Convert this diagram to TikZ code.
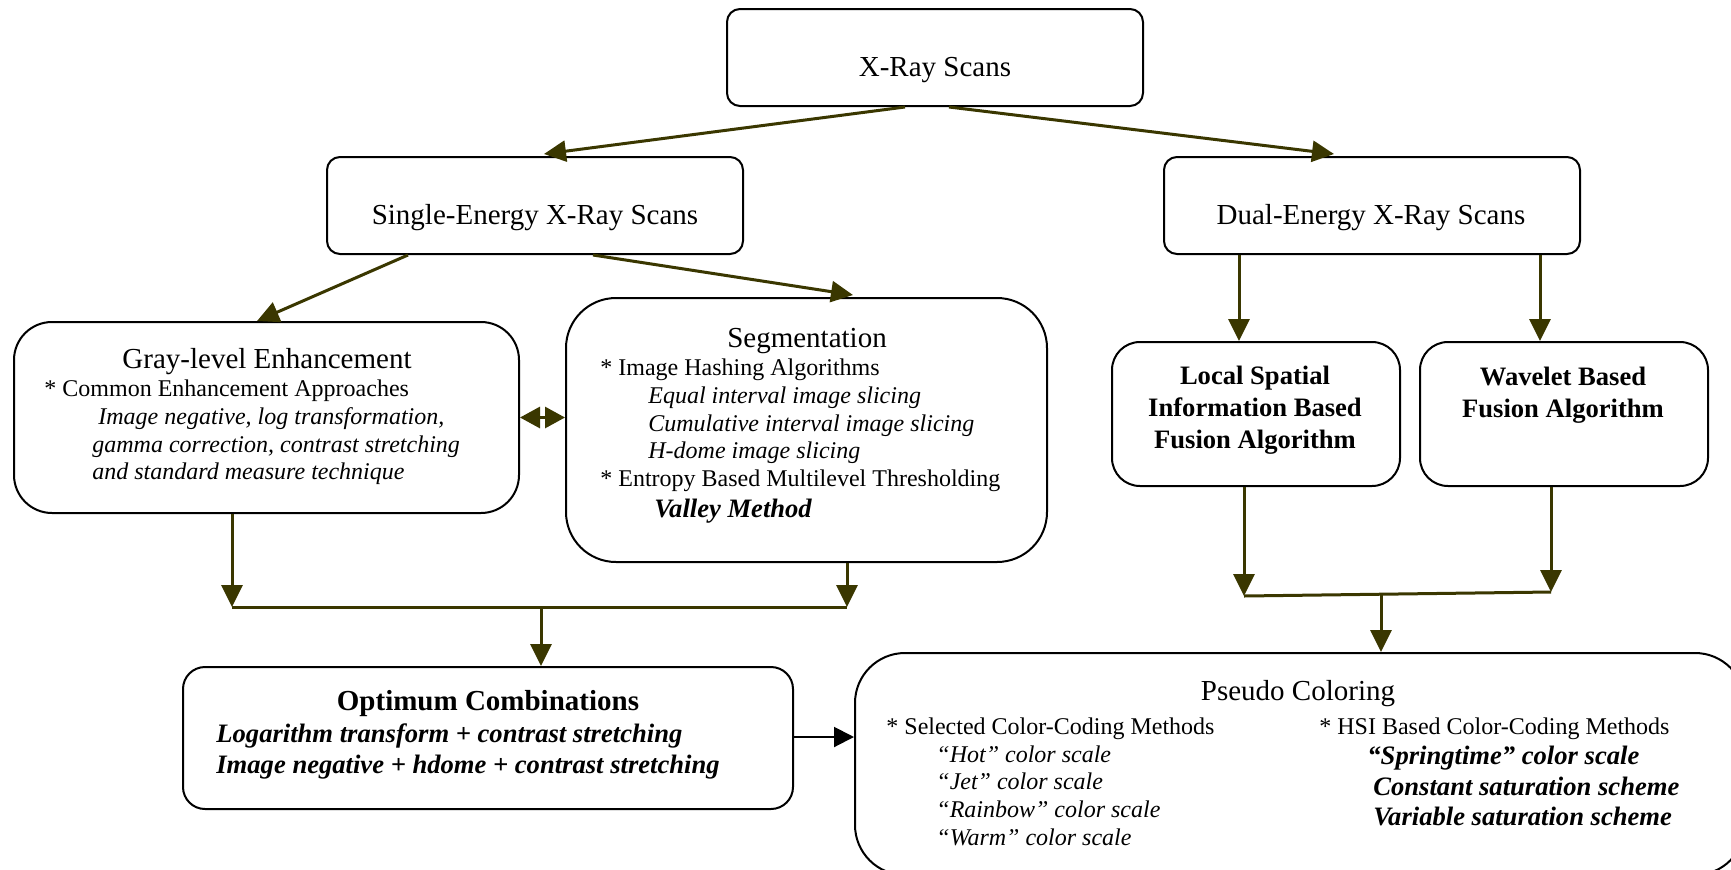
\documentclass[tikz,border=0pt]{standalone}
\usepackage{fontspec}
\setmainfont{Liberation Serif}
\usetikzlibrary{arrows.meta,calc}
\definecolor{arr}{RGB}{58,55,0}
\tikzset{
  box/.style={draw=black, line width=1pt, fill=white, inner sep=0pt},
  conn/.style={color=arr, line width=1.5pt, -{Triangle[length=11pt,width=10.5pt]}},
  plain/.style={color=arr, line width=1.5pt},
  ttl/.style={font=\fontsize{14.5}{17}\selectfont, inner sep=0pt, anchor=base},
  bd/.style={font=\fontsize{12}{14}\selectfont, inner sep=0pt, anchor=base west},
  bdi/.style={font=\fontsize{12}{14}\selectfont\itshape, inner sep=0pt, anchor=base west},
  bb/.style={font=\fontsize{13.3}{16}\selectfont\bfseries, inner sep=0pt, anchor=base},
  bbi/.style={font=\fontsize{13.3}{16}\selectfont\bfseries\itshape, inner sep=0pt, anchor=base west},
}
\begin{document}
\begin{tikzpicture}[x=0.5pt,y=-0.5pt]
\useasboundingbox (0,0) rectangle (1731,869);
\clip (0,0) rectangle (1731,869);
% boxes
\node[box, rounded corners=6.5pt, minimum width=208pt, minimum height=48.5pt] (xray) at (935,57.5) {};
\node[box, rounded corners=6.5pt, minimum width=208pt, minimum height=48.5pt] (single) at (535,205.5) {};
\node[box, rounded corners=6.5pt, minimum width=208pt, minimum height=48.5pt] (dual) at (1372,205.5) {};
\node[box, rounded corners=19pt, minimum width=252.5pt, minimum height=95.5pt] (gray) at (266.5,417.5) {};
\node[box, rounded corners=25pt, minimum width=240.5pt, minimum height=132pt] (seg) at (806.5,430) {};
\node[box, rounded corners=14pt, minimum width=144pt, minimum height=72pt] (local) at (1256,414) {};
\node[box, rounded corners=14pt, minimum width=144pt, minimum height=72pt] (wave) at (1564,414) {};
\node[box, rounded corners=11pt, minimum width=305pt, minimum height=71pt] (opt) at (488,738) {};
\node[box, rounded corners=25pt, minimum width=445pt, minimum height=111pt] (pseudo) at (1300,764) {};
% texts
\node[ttl] (txray) at (935,76) {X-Ray Scans};
\node[ttl] (tsingle) at (535,224) {Single-Energy X-Ray Scans};
\node[ttl] (tdual) at (1371,224) {Dual-Energy X-Ray Scans};
\node[ttl] (tgray) at (267,368) {Gray-level Enhancement};
\node[bd] (g1) at (44,396) {* Common Enhancement Approaches};
\node[bdi] (g2) at (98,424) {Image negative, log transformation,};
\node[bdi] (g3) at (92,452) {gamma correction, contrast stretching};
\node[bdi] (g4) at (92,479) {and standard measure technique};
\node[ttl] (tseg) at (807,347) {Segmentation};
\node[bd] (s1) at (600,375) {* Image Hashing Algorithms};
\node[bdi] (s2) at (648,403) {Equal interval image slicing};
\node[bdi] (s3) at (648,431) {Cumulative interval image slicing};
\node[bdi] (s4) at (648,458) {H-dome image slicing};
\node[bd] (s5) at (600,486) {* Entropy Based Multilevel Thresholding};
\node[bbi] (s6) at (654,517) {Valley Method};
\node[bb] (l1) at (1255,384) {Local Spatial};
\node[bb] (l2) at (1255,416) {Information Based};
\node[bb] (l3) at (1255,448) {Fusion Algorithm};
\node[bb] (w1) at (1563,385) {Wavelet Based};
\node[bb] (w2) at (1563,417) {Fusion Algorithm};
\node[bb, font=\fontsize{14.5}{17}\selectfont\bfseries] (topt) at (488,710) {Optimum Combinations};
\node[bbi] (o1) at (216,742) {Logarithm transform + contrast stretching};
\node[bbi] (o2) at (216,773) {Image negative + hdome + contrast stretching};
\node[ttl] (tpseudo) at (1298,700) {Pseudo Coloring};
\node[bd] (p1) at (886,734) {* Selected Color-Coding Methods};
\node[bdi] (p2) at (936,762) {“Hot” color scale};
\node[bdi] (p3) at (936,789) {“Jet” color scale};
\node[bdi] (p4) at (936,817) {“Rainbow” color scale};
\node[bdi] (p5) at (936,845) {“Warm” color scale};
\node[bd] (q1) at (1319,734) {* HSI Based Color-Coding Methods};
\node[bbi] (q2) at (1367,764) {“Springtime” color scale};
\node[bbi] (q3) at (1373,795) {Constant saturation scheme};
\node[bbi] (q4) at (1373,825) {Variable saturation scheme};
% connectors
\draw[conn] ([xshift=-15pt]xray.south) -- ([xshift=4.5pt,yshift=1pt]single.north);
\draw[conn] ([xshift=7pt]xray.south) -- ([xshift=-19pt,yshift=1pt]dual.north);
\draw[conn] ([xshift=-63.5pt]single.south) -- ([xshift=-4.75pt]gray.north);
\draw[conn] ([xshift=29pt]single.south) -- ([xshift=23.25pt,yshift=1pt]seg.north);
\coordinate (dl) at ([xshift=-66.5pt]dual.south);
\coordinate (dr) at ([xshift=84pt]dual.south);
\draw[conn] (dl) -- (dl |- local.north);
\draw[conn] (dr) -- (dr |- wave.north);
\draw[color=arr, line width=1.5pt, {Triangle[length=10pt,width=10.5pt]}-{Triangle[length=10pt,width=10.5pt]}] (gray.east) -- (gray.east -| seg.west);
% left merge
\coordinate (jl) at (232,607);
\coordinate (jr) at (847,607);
\coordinate (jm) at (541,607);
\draw[conn] (gray.south -| jl) -- (jl);
\draw[conn] (seg.south -| jr) -- (jr);
\draw[plain] (jl) -- (jr);
\draw[conn] (jm) -- (jm |- opt.north);
% right merge
\coordinate (kl) at (1244,596);
\coordinate (kr) at (1551,592);
\coordinate (km) at (1381,594);
\draw[conn] (local.south -| kl) -- (kl);
\draw[conn] (wave.south -| kr) -- (kr);
\draw[plain] (kl) -- (kr);
\draw[conn] (km) -- (km |- pseudo.north);
% optimum to pseudo
\draw[line width=1pt, -{Triangle[length=10pt,width=10pt]}] ([yshift=0.5pt]opt.east) -- ([yshift=0.5pt]opt.east -| pseudo.west);
\end{tikzpicture}
\end{document}
